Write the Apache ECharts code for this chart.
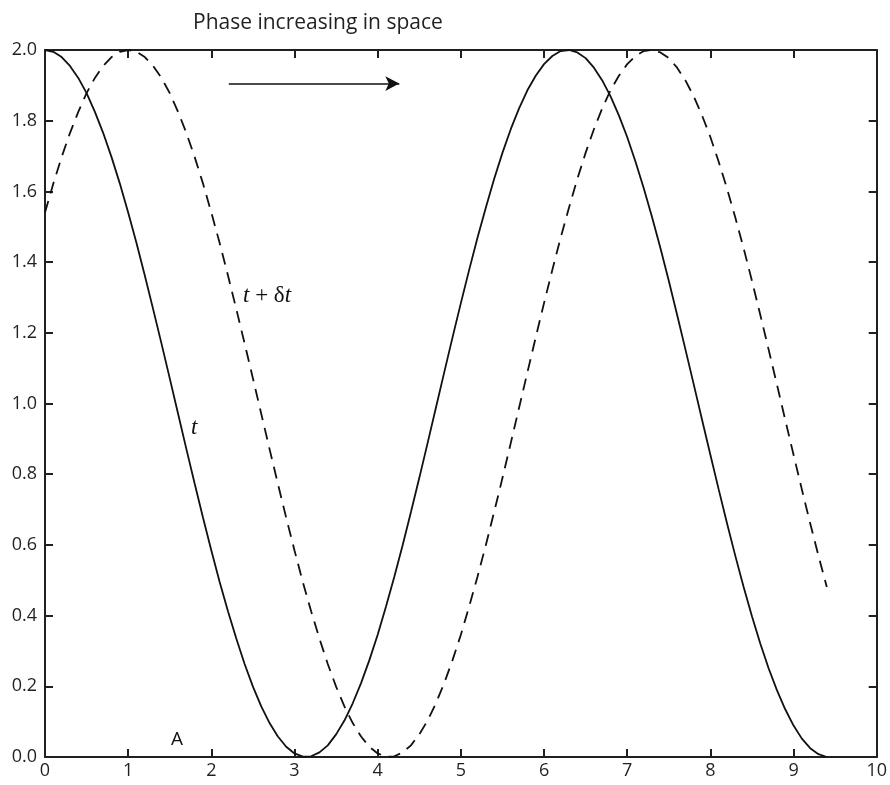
<!DOCTYPE html>
<html>
<head>
<meta charset="utf-8">
<script src="https://cdn.jsdelivr.net/npm/echarts@6/dist/echarts.min.js"></script>
<style>
  html, body { margin: 0; padding: 0; background: #fff; }
  #chart { width: 890px; height: 785px; }
</style>
</head>
<body>
<div id="chart"></div>
<script>
// x positions (step 0.1)
const xs = [0, 0.1, 0.2, 0.3, 0.4, 0.5, 0.6, 0.7, 0.8, 0.9, 1.0, 1.1, 1.2, 1.3, 1.4, 1.5, 1.6, 1.7, 1.8, 1.9,
  2.0, 2.1, 2.2, 2.3, 2.4, 2.5, 2.6, 2.7, 2.8, 2.9, 3.0, 3.1, 3.2, 3.3, 3.4, 3.5, 3.6, 3.7, 3.8, 3.9,
  4.0, 4.1, 4.2, 4.3, 4.4, 4.5, 4.6, 4.7, 4.8, 4.9, 5.0, 5.1, 5.2, 5.3, 5.4, 5.5, 5.6, 5.7, 5.8, 5.9,
  6.0, 6.1, 6.2, 6.3, 6.4, 6.5, 6.6, 6.7, 6.8, 6.9, 7.0, 7.1, 7.2, 7.3, 7.4, 7.5, 7.6, 7.7, 7.8, 7.9,
  8.0, 8.1, 8.2, 8.3, 8.4, 8.5, 8.6, 8.7, 8.8, 8.9, 9.0, 9.1, 9.2, 9.3, 9.4]

// solid curve "t"
const waveT = [2.000, 1.995, 1.980, 1.955, 1.921, 1.878, 1.825, 1.765, 1.697, 1.622, 1.540, 1.454, 1.362,
  1.267, 1.170, 1.071, 0.971, 0.871, 0.773, 0.677, 0.584, 0.495, 0.412, 0.335, 0.263, 0.199, 0.143, 0.096,
  0.058, 0.029, 0.010, 0.001, 0.002, 0.013, 0.033, 0.064, 0.103, 0.152, 0.209, 0.274, 0.346, 0.426, 0.510,
  0.599, 0.693, 0.789, 0.888, 0.988, 1.088, 1.187, 1.284, 1.378, 1.469, 1.554, 1.635, 1.709, 1.776, 1.835,
  1.886, 1.927, 1.960, 1.983, 1.997, 2.000, 1.993, 1.977, 1.950, 1.914, 1.869, 1.815, 1.754, 1.684, 1.608,
  1.526, 1.439, 1.347, 1.251, 1.153, 1.054, 0.954, 0.855, 0.757, 0.661, 0.569, 0.481, 0.398, 0.321, 0.251,
  0.189, 0.135, 0.089, 0.052, 0.025, 0.008, 0.000]

// dashed curve "t + δt"
const waveDt = [1.540, 1.622, 1.697, 1.765, 1.825, 1.878, 1.921, 1.955, 1.980, 1.995, 2.000, 1.995, 1.980,
  1.955, 1.921, 1.878, 1.825, 1.765, 1.697, 1.622, 1.540, 1.454, 1.362, 1.267, 1.170, 1.071, 0.971, 0.871,
  0.773, 0.677, 0.584, 0.495, 0.412, 0.335, 0.263, 0.199, 0.143, 0.096, 0.058, 0.029, 0.010, 0.001, 0.002,
  0.013, 0.033, 0.064, 0.103, 0.152, 0.209, 0.274, 0.346, 0.426, 0.510, 0.599, 0.693, 0.789, 0.888, 0.988,
  1.088, 1.187, 1.284, 1.378, 1.469, 1.554, 1.635, 1.709, 1.776, 1.835, 1.886, 1.927, 1.960, 1.983, 1.997,
  2.000, 1.993, 1.977, 1.950, 1.914, 1.869, 1.815, 1.754, 1.684, 1.608, 1.526, 1.439, 1.347, 1.251, 1.153,
  1.054, 0.954, 0.855, 0.757, 0.661, 0.569, 0.481]

const xTicks = [0, 1, 2, 3, 4, 5, 6, 7, 8, 9, 10]
const yTicks = [0, 0.2, 0.4, 0.6, 0.8, 1.0, 1.2, 1.4, 1.6, 1.8, 2.0]
const arrowFrom = [2.21, 1.905]
const arrowTo = [4.26, 1.905]

const pair = (arr) => xs.map((x, i) => [x, arr[i]])

const chart = echarts.init(document.getElementById('chart'))

const axisCommon = {
  axisLine: { show: true, onZero: false, lineStyle: { color: '#231f20', width: 2 } },
  axisTick: { show: true, inside: true, length: 8, lineStyle: { color: '#231f20', width: 2 } },
  splitLine: { show: false }
}
const labelStyle = { color: '#231f20', fontSize: 18, fontFamily: 'Open Sans' }

const option = {
  animation: false,
  title: {
    text: 'Phase increasing in space',
    left: 188,
    top: 8,
    textStyle: { fontSize: 21, fontWeight: 'normal', color: '#231f20', fontFamily: 'Open Sans' }
  },
  grid: { left: 45, right: 12, top: 50, bottom: 28 },
  xAxis: [
    {
      type: 'value', min: xTicks[0], max: xTicks[xTicks.length - 1], interval: 1,
      position: 'bottom', ...axisCommon,
      axisLabel: { ...labelStyle, margin: 5 }
    },
    {
      type: 'value', min: xTicks[0], max: xTicks[xTicks.length - 1], interval: 1,
      position: 'top', ...axisCommon, axisLabel: { show: false }
    }
  ],
  yAxis: [
    {
      type: 'value', min: yTicks[0], max: yTicks[yTicks.length - 1], interval: 0.2,
      position: 'left', ...axisCommon,
      axisLabel: { ...labelStyle, margin: 8, formatter: (v) => v.toFixed(1) }
    },
    {
      type: 'value', min: yTicks[0], max: yTicks[yTicks.length - 1], interval: 0.2,
      position: 'right', ...axisCommon, axisLabel: { show: false }
    }
  ],
  series: [
    {
      name: 't',
      type: 'line',
      data: pair(waveT),
      showSymbol: false,
      lineStyle: { color: '#111', width: 1.8 },
      markLine: {
        silent: true,
        symbol: ['none', 'arrow'],
        symbolSize: [11, 14],
        label: { show: false },
        lineStyle: { color: '#111', width: 1.6, type: 'solid' },
        data: [[{ coord: arrowFrom }, { coord: arrowTo }]]
      }
    },
    {
      name: 't + δt',
      type: 'line',
      data: pair(waveDt),
      showSymbol: false,
      lineStyle: { color: '#111', width: 1.8, type: [12, 8] }
    }
  ],
  graphic: [
    {
      type: 'text', left: 243, top: 284,
      style: {
        text: '{i|t} + {n|δ}{i|t}',
        rich: {
          i: { fontStyle: 'italic', fontFamily: 'Liberation Serif', fontSize: 23, fill: '#111' },
          n: { fontFamily: 'Liberation Serif', fontSize: 23, fill: '#111' }
        },
        fontFamily: 'Liberation Serif', fontSize: 23, fill: '#111'
      }
    },
    {
      type: 'text', left: 191, top: 416,
      style: { text: 't', fontStyle: 'italic', fontFamily: 'Liberation Serif', fontSize: 23, fill: '#111' }
    },
    {
      type: 'text', left: 171, top: 730,
      style: { text: 'A', fontFamily: 'Open Sans', fontSize: 19, fill: '#111' }
    }
  ]
}

chart.setOption(option)
window.addEventListener('resize', () => chart.resize())
</script>
</body>
</html>
